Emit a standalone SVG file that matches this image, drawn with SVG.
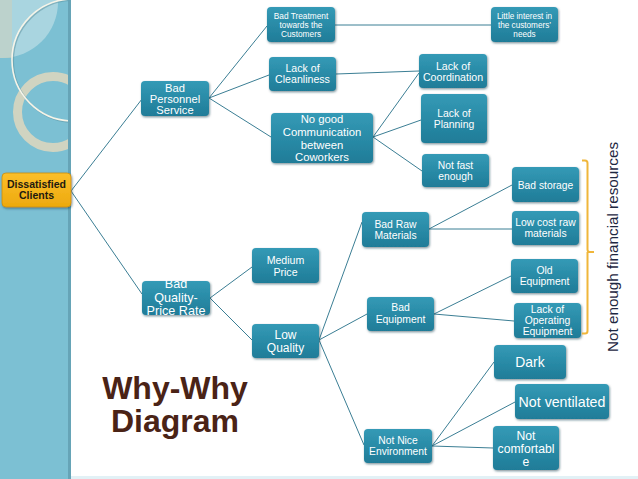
<svg xmlns="http://www.w3.org/2000/svg" width="638" height="479" viewBox="0 0 638 479">
<defs>
<linearGradient id="teal" x1="0" y1="0" x2="0" y2="1">
<stop offset="0" stop-color="#349ab6"/>
<stop offset="1" stop-color="#1f7c98"/>
</linearGradient>
<linearGradient id="gold" x1="0" y1="0" x2="0" y2="1">
<stop offset="0" stop-color="#fbbf2a"/>
<stop offset="1" stop-color="#eda90e"/>
</linearGradient>
<filter id="sh" x="-20%" y="-20%" width="140%" height="150%">
<feDropShadow dx="0.8" dy="1.2" stdDeviation="0.9" flood-color="#0b3a48" flood-opacity="0.55"/>
</filter>
<clipPath id="panel"><rect x="0" y="0" width="70" height="479"/></clipPath>
</defs>
<style>
.n rect{fill:url(#teal);filter:url(#sh)}
.n text{fill:#ffffff;font-family:"Liberation Sans",Arial,sans-serif;text-anchor:middle}
#connectors line{stroke:#3b7e94;stroke-width:1}
</style>
<rect width="638" height="479" fill="#ffffff"/>
<rect x="70" y="476" width="568" height="3" fill="#e2f1f6"/>
<g clip-path="url(#panel)">
<rect x="0" y="0" width="70" height="479" fill="#7cc0d3"/>
<circle cx="2" cy="2" r="56" fill="#b8dce4" opacity="0.75"/>
<rect x="0" y="0" width="12" height="58" fill="#cfcfb8" opacity="0.5"/>
<circle cx="53" cy="112" r="35.5" fill="none" stroke="#d9d6bf" stroke-width="9" opacity="0.9"/>
<circle cx="73" cy="60" r="61" fill="none" stroke="#5a8f9e" stroke-width="2" opacity="0.5" transform="translate(1,1)"/>
<circle cx="73" cy="60" r="61" fill="none" stroke="#f6f4e8" stroke-width="1.6"/>
</g>
<rect x="68" y="0" width="3" height="479" fill="#66a4b7"/>
<g id="connectors">
<line x1="71" y1="191" x2="142" y2="99"/>
<line x1="71" y1="191" x2="142" y2="294"/>
<line x1="209" y1="98" x2="267" y2="26"/>
<line x1="209" y1="98" x2="269" y2="75"/>
<line x1="209" y1="98" x2="271" y2="137"/>
<line x1="335" y1="25" x2="491" y2="25"/>
<line x1="336" y1="74" x2="419" y2="71"/>
<line x1="373" y1="137" x2="419" y2="73"/>
<line x1="373" y1="137" x2="421" y2="120"/>
<line x1="373" y1="137" x2="422" y2="171"/>
<line x1="210" y1="298" x2="252" y2="267"/>
<line x1="210" y1="298" x2="252" y2="340"/>
<line x1="319" y1="340" x2="362" y2="222"/>
<line x1="319" y1="340" x2="367" y2="314"/>
<line x1="319" y1="340" x2="364" y2="445"/>
<line x1="429" y1="229" x2="512" y2="185"/>
<line x1="429" y1="229" x2="512" y2="229"/>
<line x1="434" y1="314" x2="511" y2="276"/>
<line x1="434" y1="314" x2="514" y2="321"/>
<line x1="432" y1="446" x2="494" y2="362"/>
<line x1="432" y1="446" x2="515" y2="402"/>
<line x1="432" y1="446" x2="493" y2="448"/>
</g>
<g id="n-dissatisfied">
<rect x="2" y="173" width="69" height="34" rx="4" fill="url(#gold)" stroke="#c98f0e" stroke-width="0.8" filter="url(#sh)"/>
<text x="36.5" y="188" font-family="Liberation Sans,Arial,sans-serif" font-weight="bold" font-size="10.5" fill="#1e1a10" text-anchor="middle">Dissatisfied</text>
<text x="36.5" y="199" font-family="Liberation Sans,Arial,sans-serif" font-weight="bold" font-size="10.5" fill="#1e1a10" text-anchor="middle">Clients</text>
</g>
<g id="n-personnel" class="n">
<rect x="141" y="81" width="68" height="35" rx="4"/>
<text x="175" y="91.5" font-size="11.2">Bad</text>
<text x="175" y="102.5" font-size="11.2">Personnel</text>
<text x="175" y="113.5" font-size="11.2">Service</text>
</g>
<g id="n-treatment" class="n">
<rect x="267" y="7" width="68" height="35" rx="4"/>
<text x="301" y="19" font-size="8.3">Bad Treatment</text>
<text x="301" y="28" font-size="8.3">towards the</text>
<text x="301" y="37" font-size="8.3">Customers</text>
</g>
<g id="n-interest" class="n">
<rect x="491" y="7" width="67" height="35" rx="4"/>
<text x="524.5" y="19" font-size="8.2">Little interest in</text>
<text x="524.5" y="28" font-size="8.2">the customers’</text>
<text x="524.5" y="37" font-size="8.2">needs</text>
</g>
<g id="n-cleanliness" class="n">
<rect x="269" y="57" width="67" height="34" rx="4"/>
<text x="302.5" y="71.5" font-size="10.6">Lack of</text>
<text x="302.5" y="82.5" font-size="10.6">Cleanliness</text>
</g>
<g id="n-communication" class="n">
<rect x="271" y="113" width="102" height="50" rx="4"/>
<text x="322" y="123.2" font-size="11.3">No good</text>
<text x="322" y="135.9" font-size="11.3">Communication</text>
<text x="322" y="148.6" font-size="11.3">between</text>
<text x="322" y="161.3" font-size="11.3">Coworkers</text>
</g>
<g id="n-coordination" class="n">
<rect x="419" y="54" width="68" height="34" rx="4"/>
<text x="453" y="69.7" font-size="10.6">Lack of</text>
<text x="453" y="80.7" font-size="10.6">Coordination</text>
</g>
<g id="n-planning" class="n">
<rect x="421" y="94" width="66" height="49" rx="4"/>
<text x="454" y="116.6" font-size="10.4">Lack of</text>
<text x="454" y="127.6" font-size="10.4">Planning</text>
</g>
<g id="n-notfast" class="n">
<rect x="422" y="154" width="67" height="33" rx="4"/>
<text x="455.5" y="168.6" font-size="10.3">Not fast</text>
<text x="455.5" y="179.6" font-size="10.3">enough</text>
</g>
<g id="n-storage" class="n">
<rect x="512" y="167" width="67" height="35" rx="4"/>
<text x="545.5" y="188.6" font-size="10.3">Bad storage</text>
</g>
<g id="n-lowcost" class="n">
<rect x="512" y="211" width="67" height="34" rx="4"/>
<text x="545.5" y="225.7" font-size="10.4">Low cost raw</text>
<text x="545.5" y="236.7" font-size="10.4">materials</text>
</g>
<g id="n-oldequip" class="n">
<rect x="511" y="259" width="67" height="34" rx="4"/>
<text x="544.5" y="273.6" font-size="10.4">Old</text>
<text x="544.5" y="284.6" font-size="10.4">Equipment</text>
</g>
<g id="n-operating" class="n">
<rect x="514" y="303" width="67" height="35" rx="4"/>
<text x="547.5" y="312.6" font-size="10.4">Lack of</text>
<text x="547.5" y="323.6" font-size="10.4">Operating</text>
<text x="547.5" y="334.6" font-size="10.4">Equipment</text>
</g>
<g id="n-rawmaterials" class="n">
<rect x="362" y="212" width="67" height="35" rx="4"/>
<text x="395.5" y="227.6" font-size="10.4">Bad Raw</text>
<text x="395.5" y="238.6" font-size="10.4">Materials</text>
</g>
<g id="n-badequip" class="n">
<rect x="367" y="297" width="67" height="34" rx="4"/>
<text x="400.5" y="310.6" font-size="10.4">Bad</text>
<text x="400.5" y="322.6" font-size="10.4">Equipment</text>
</g>
<g id="n-medium" class="n">
<rect x="252" y="248" width="67" height="35" rx="4"/>
<text x="285.5" y="263.7" font-size="10.6">Medium</text>
<text x="285.5" y="275.7" font-size="10.6">Price</text>
</g>
<g id="n-quality" class="n">
<rect x="142" y="281" width="68" height="34" rx="4"/>
<text x="176" y="287.5" font-size="12.6">Bad</text>
<text x="176" y="301.5" font-size="12.6">Quality-</text>
<text x="176" y="314.8" font-size="12.6">Price Rate</text>
</g>
<g id="n-lowquality" class="n">
<rect x="252" y="324" width="67" height="34" rx="4"/>
<text x="285.5" y="338.8" font-size="12">Low</text>
<text x="285.5" y="351.8" font-size="12">Quality</text>
</g>
<g id="n-environment" class="n">
<rect x="364" y="429" width="68" height="34" rx="4"/>
<text x="398" y="443.6" font-size="10.3">Not Nice</text>
<text x="398" y="454.6" font-size="10.3">Environment</text>
</g>
<g id="n-dark" class="n">
<rect x="494" y="345" width="72" height="34" rx="4"/>
<text x="530" y="367" font-size="13.9">Dark</text>
</g>
<g id="n-ventilated" class="n">
<rect x="515" y="384" width="94" height="35" rx="4"/>
<text x="562" y="407" font-size="14.2">Not ventilated</text>
</g>
<g id="n-comfortable" class="n">
<rect x="493" y="426" width="66" height="44" rx="4"/>
<text x="526" y="440.3" font-size="12.2">Not</text>
<text x="526" y="453.3" font-size="12.2">comfortabl</text>
<text x="526" y="466.3" font-size="12.2">e</text>
</g>
<g id="brace">
<path d="M582,160.5 H585 Q587.5,160.5 587.5,163 V249.5 Q587.5,252 590,252 H594 M587.5,252 V331 Q587.5,333.5 585,333.5 H582" fill="none" stroke="#f0b63a" stroke-width="2"/>
</g>
<text transform="translate(618,247) rotate(-90)" text-anchor="middle" font-family="Liberation Sans,Arial,sans-serif" font-size="15.3" fill="#1d2741" textLength="210" lengthAdjust="spacingAndGlyphs">Not enough financial resources</text>
<text x="175" y="399" text-anchor="middle" font-family="Liberation Sans,Arial,sans-serif" font-weight="bold" font-size="32" fill="#4a2316">Why-Why</text>
<text x="175" y="432" text-anchor="middle" font-family="Liberation Sans,Arial,sans-serif" font-weight="bold" font-size="32" fill="#4a2316">Diagram</text>
</svg>
